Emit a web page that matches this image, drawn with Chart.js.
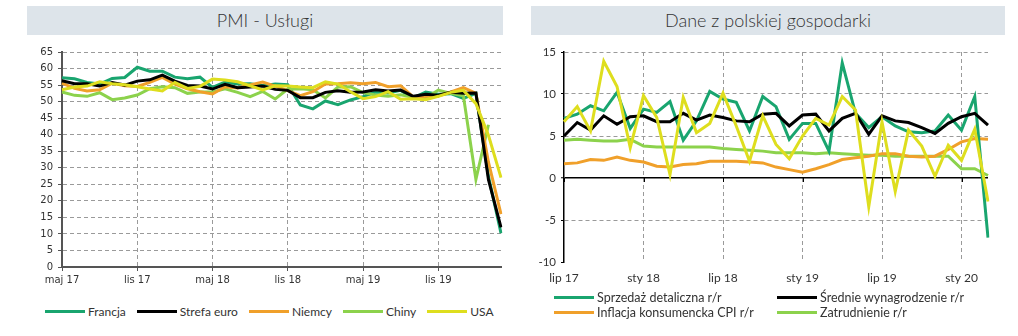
<!DOCTYPE html>
<html>
<head>
<meta charset="utf-8">
<script src="https://cdn.jsdelivr.net/npm/chart.js@4/dist/chart.umd.min.js"></script>
<style>
  body { margin: 0; width: 1018px; height: 336px; overflow: hidden; position: relative; background: #fff; font-family: Lato, sans-serif; color: #333; }
  .title { position: absolute; top: 6px; height: 29px; line-height: 29px; background: #dde4ea; font-size: 18px; font-weight: 300; text-align: center; color: #333; }
  .box { position: absolute; top: 40px; height: 250px; }
  .legend { position: absolute; font-size: 12px; color: #333; }
  .item { display: flex; align-items: center; white-space: nowrap; }
  .swatch { display: inline-block; width: 40px; height: 3px; margin-right: 3px; }
</style>
</head>
<body>
<div class="title" style="left:27px;width:476px">PMI - Usługi</div>
<div class="title" style="left:531px;width:474px">Dane z polskiej gospodarki</div>
<div class="box" style="left:0;width:510px"><canvas id="pmi"></canvas></div>
<div class="box" style="left:515px;width:503px"><canvas id="pl"></canvas></div>
<div class="legend" id="pmiLegend" style="left:45px;top:304px;display:flex;gap:11px"></div>
<div class="legend" id="plLegend" style="left:554px;top:290px;display:grid;grid-template-columns:223px auto;row-gap:0;font-size:12.5px;line-height:15px"></div>
<script>
// PMI - usługi, maj 2017 - kwi 2020
const PMI_MONTHS = ['maj 17','cze 17','lip 17','sie 17','wrz 17','paź 17','lis 17','gru 17',
  'sty 18','lut 18','mar 18','kwi 18','maj 18','cze 18','lip 18','sie 18','wrz 18','paź 18','lis 18','gru 18',
  'sty 19','lut 19','mar 19','kwi 19','maj 19','cze 19','lip 19','sie 19','wrz 19','paź 19','lis 19','gru 19',
  'sty 20','lut 20','mar 20','kwi 20'];
const francja = [57.2, 56.9, 55.8, 55.3, 57.0, 57.3, 60.4, 59.2, 59.2, 57.4, 56.9, 57.4, 54.3, 55.9, 55.3, 55.4, 54.8, 55.3,
  55.1, 49.0, 47.8, 50.2, 49.1, 50.5, 51.5, 52.9, 52.6, 53.4, 51.1, 52.9, 52.2, 52.4, 51.0, 52.5, 27.4, 10.2];
const strefaEuro = [56.3, 55.4, 55.4, 54.7, 55.8, 55.0, 56.2, 56.6, 58.0, 56.2, 54.9, 54.7, 53.8, 55.2, 54.2, 54.4, 54.7, 53.7,
  53.4, 51.2, 51.2, 52.8, 53.3, 52.8, 52.9, 53.6, 53.2, 53.5, 51.6, 52.2, 51.9, 52.8, 52.5, 52.6, 26.4, 12.0];
const niemcy = [55.6, 54.0, 53.2, 53.6, 55.6, 54.8, 54.6, 55.8, 57.3, 55.3, 53.9, 53.0, 52.3, 54.5, 54.1, 55.0, 55.9, 54.7,
  53.3, 51.8, 53.0, 55.3, 55.4, 55.7, 55.4, 55.8, 54.5, 54.8, 51.4, 51.6, 51.7, 52.9, 54.2, 52.5, 31.7, 16.0];
const chiny = [52.9, 51.9, 51.6, 52.7, 50.6, 51.1, 52.0, 53.9, 54.5, 54.2, 52.5, 52.9, 52.9, 53.9, 52.8, 51.5, 53.1, 50.8,
  53.8, 53.9, 53.6, 51.1, 54.4, 54.5, 52.7, 52.0, 51.6, 52.1, 51.3, 51.1, 53.5, 52.5, 51.8, 26.5, 43.0, null];
const usa = [53.6, 54.4, 54.7, 56.0, 55.4, 55.1, 54.5, 53.8, 53.2, 55.8, 54.0, 54.6, 56.8, 56.5, 56.0, 54.8, 53.5, 54.8,
  54.7, 54.4, 54.2, 56.0, 55.3, 53.0, 50.9, 51.5, 53.0, 50.7, 50.9, 50.6, 51.6, 52.8, 53.4, 49.4, 39.8, 27.0];

// Dane z polskiej gospodarki, lip 2017 - mar 2020
const PL_MONTHS = ['lip 17','sie 17','wrz 17','paź 17','lis 17','gru 17',
  'sty 18','lut 18','mar 18','kwi 18','maj 18','cze 18','lip 18','sie 18','wrz 18','paź 18','lis 18','gru 18',
  'sty 19','lut 19','mar 19','kwi 19','maj 19','cze 19','lip 19','sie 19','wrz 19','paź 19','lis 19','gru 19',
  'sty 20','lut 20','mar 20'];
const sprzedaz = [7.1, 7.6, 8.6, 8.0, 10.2, 5.9, 8.2, 7.8, 9.1, 4.5, 6.8, 10.3, 9.4, 9.0, 5.6, 9.7, 8.5,
  4.6, 6.5, 6.5, 3.2, 13.7, 7.7, 6.0, 7.3, 6.2, 5.5, 5.4, 5.6, 7.5, 5.7, 9.7, -7.1];
const wynagrodzenie = [5.0, 6.6, 5.7, 7.4, 6.4, 7.3, 7.4, 6.7, 6.7, 7.7, 6.9, 7.5, 7.2, 6.8, 6.7, 7.6, 7.7,
  6.2, 7.5, 7.6, 5.6, 7.1, 7.7, 5.2, 7.4, 6.8, 6.6, 6.0, 5.3, 6.5, 7.3, 7.7, 6.3];
const inflacja = [1.7, 1.8, 2.2, 2.1, 2.5, 2.1, 1.9, 1.4, 1.3, 1.6, 1.7, 2.0, 2.0, 2.0, 1.9, 1.8, 1.3,
  1.0, 0.7, 1.1, 1.6, 2.2, 2.4, 2.6, 2.9, 2.9, 2.6, 2.5, 2.6, 3.4, 4.3, 4.7, 4.6];
const zatrudnienie = [4.5, 4.6, 4.5, 4.4, 4.4, 4.6, 3.8, 3.7, 3.7, 3.7, 3.7, 3.7, 3.5, 3.4, 3.3, 3.2, 3.0,
  3.0, 3.0, 2.9, 3.0, 2.9, 2.8, 2.7, 2.7, 2.6, 2.6, 2.6, 2.6, 2.6, 1.1, 1.1, 0.3];
const produkcja = [6.7, 8.5, 5.6, 13.9, 10.9, 3.6, 9.8, 7.2, 0.4, 9.6, 5.4, 6.5, 10.1, 6.2, 2.0, 7.4, 4.0,
  2.3, 5.0, 7.1, 6.3, 9.7, 8.1, -3.4, 6.7, -1.6, 5.7, 3.8, 0.2, 3.9, 2.1, 5.8, -2.8];

const GREEN = '#19a56f', BLACK = '#000000', ORANGE = '#f0a02a', LIGHT = '#8cd24c', YELLOW = '#dede1e';
const GRID = '#9a9a9a';

function line(label, data, color) {
  return { label, data, borderColor: color, backgroundColor: color, borderWidth: 3,
    pointRadius: 0, tension: 0, fill: false };
}

function htmlLegend(el, datasets) {
  datasets.forEach(d => {
    const item = document.createElement('div');
    item.className = 'item';
    item.innerHTML = '<span class="swatch" style="background:' + d.borderColor + '"></span>' + d.label;
    el.appendChild(item);
  });
}

const usaSet = line('USA', usa, YELLOW);
const euroSet = line('Strefa euro', strefaEuro, BLACK);
const niemcySet = line('Niemcy', niemcy, ORANGE);
const chinySet = line('Chiny', chiny, LIGHT);
const francjaSet = line('Francja', francja, GREEN);

new Chart(document.getElementById('pmi'), {
  type: 'line',
  data: { labels: PMI_MONTHS, datasets: [usaSet, euroSet, niemcySet, chinySet, francjaSet] },
  options: {
    animation: false,
    responsive: true,
    maintainAspectRatio: false,
    layout: { padding: { top: 12, right: 9, left: 0, bottom: 0 } },
    plugins: { legend: { display: false }, tooltip: { enabled: false } },
    scales: {
      x: {
        grid: {
          color: ctx => (ctx.index % 6 === 0 && ctx.index > 0) ? GRID : 'transparent',
          tickColor: ctx => ctx.index % 6 === 0 ? '#555' : 'transparent',
          tickLength: 4,
        },
        border: { color: '#555', width: 2, dash: [4, 3] },
        ticks: {
          autoSkip: false, maxRotation: 0, minRotation: 0, padding: 3, color: '#333',
          font: { family: 'DejaVu Sans', size: 10 },
          callback: (v, i) => i % 6 === 0 ? PMI_MONTHS[i] : '',
        },
        afterFit: s => { s.height = 23; },
      },
      y: {
        min: 0, max: 65,
        grid: {
          color: ctx => (ctx.tick && ctx.tick.value === 0) ? 'transparent' : GRID,
          tickColor: '#555', tickLength: 4,
        },
        border: { color: '#555', width: 2, dash: [4, 3] },
        ticks: { stepSize: 5, padding: 5, color: '#333', font: { family: 'DejaVu Sans', size: 10 } },
        afterFit: s => { s.width = 62; },
      },
    },
  },
});
htmlLegend(document.getElementById('pmiLegend'), [francjaSet, euroSet, niemcySet, chinySet, usaSet]);

// small tick marks on the zero line, taken from the x scale
const zeroTicks = {
  id: 'zeroTicks',
  beforeDatasetsDraw(chart) {
    const { ctx, scales: { x, y } } = chart;
    const y0 = y.getPixelForValue(0);
    ctx.save();
    ctx.strokeStyle = '#000';
    ctx.lineWidth = 1;
    x.ticks.forEach((t, i) => {
      if (i % 6 !== 0) return;
      const px = Math.round(x.getPixelForTick(i)) + 0.5;
      ctx.beginPath();
      ctx.moveTo(px, y0);
      ctx.lineTo(px, y0 + 4);
      ctx.stroke();
    });
    ctx.restore();
  },
};

const prodSet = line('Produkcja', produkcja, YELLOW);
const wynSet = line('Średnie wynagrodzenie r/r', wynagrodzenie, BLACK);
const sprzSet = line('Sprzedaż detaliczna r/r', sprzedaz, GREEN);
const cpiSet = line('Inflacja konsumencka CPI r/r', inflacja, ORANGE);
const zatrSet = line('Zatrudnienie r/r', zatrudnienie, LIGHT);

new Chart(document.getElementById('pl'), {
  type: 'line',
  data: { labels: PL_MONTHS, datasets: [prodSet, wynSet, sprzSet, cpiSet, zatrSet] },
  plugins: [zeroTicks],
  options: {
    animation: false,
    responsive: true,
    maintainAspectRatio: false,
    layout: { padding: { top: 12, right: 30, left: 0, bottom: 0 } },
    plugins: { legend: { display: false }, tooltip: { enabled: false } },
    scales: {
      x: {
        grid: {
          color: ctx => (ctx.index % 6 === 0 && ctx.index > 0) ? GRID : 'transparent',
          drawTicks: false,
        },
        border: { display: false, dash: [4, 3] },
        ticks: {
          autoSkip: false, maxRotation: 0, minRotation: 0, padding: 9, color: '#333',
          font: { family: 'Lato', size: 12 },
          callback: (v, i) => i % 6 === 0 ? PL_MONTHS[i] : '',
        },
        afterFit: s => { s.height = 28; },
      },
      y: {
        min: -10, max: 15,
        grid: {
          color: ctx => {
            if (!ctx.tick) return GRID;
            if (ctx.tick.value === 0) return '#000';
            if (ctx.tick.value === -10) return 'transparent';
            return GRID;
          },
          lineWidth: ctx => (ctx.tick && ctx.tick.value === 0) ? 1.5 : 1,
          tickColor: '#000', tickLength: 3, tickWidth: 1,
        },
        border: { color: '#000', width: 1.5, dash: ctx => (ctx.tick && ctx.tick.value === 0) ? [] : [4, 3] },
        ticks: { stepSize: 5, padding: 5, color: '#333', font: { family: 'Lato', size: 11.5 } },
        afterFit: s => { s.width = 49; },
      },
    },
  },
});
htmlLegend(document.getElementById('plLegend'), [sprzSet, wynSet, cpiSet, zatrSet]);
</script>
</body>
</html>
